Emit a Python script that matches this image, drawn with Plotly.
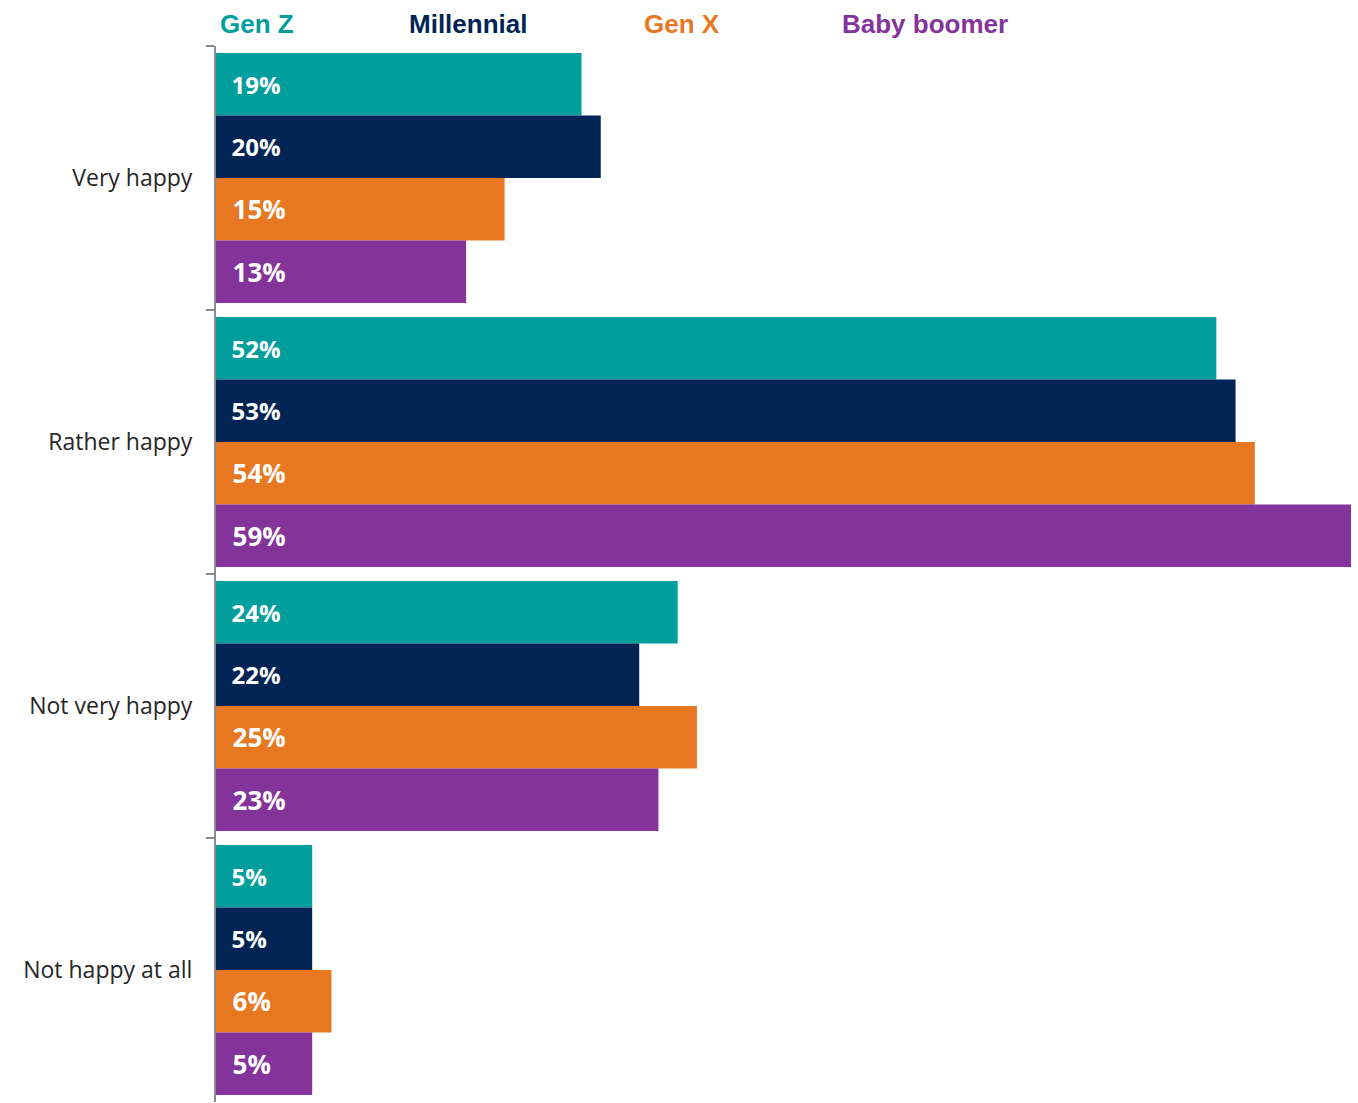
import plotly.graph_objects as go

# Survey responses by generation
categories = ["Very happy", "Rather happy", "Not very happy", "Not happy at all"]
series_names = ["Gen Z", "Millennial", "Gen X", "Baby boomer"]
gen_z = [19, 52, 24, 5]
millennial = [20, 53, 22, 5]
gen_x = [15, 54, 25, 6]
baby_boomer = [13, 59, 23, 5]

colors = ["#009E9C", "#002554", "#E87722", "#833399"]
label_sizes = [24, 24, 26, 26]
series_values = [gen_z, millennial, gen_x, baby_boomer]

fig = go.Figure()
for name, vals, col, lsz in zip(series_names, series_values, colors, label_sizes):
    fig.add_trace(go.Bar(
        name=name,
        y=categories,
        x=vals,
        orientation="h",
        marker=dict(color=col, line=dict(width=0)),
        text=[f"\u00a0\u00a0{v}%" for v in vals],
        textposition="inside",
        insidetextanchor="start",
        textfont=dict(family="Open Sans", size=lsz, color="white", weight="bold"),
        hoverinfo="skip",
    ))

# Coloured series names across the top instead of a symbol legend
legend_x = [0.0018, 0.168, 0.375, 0.5498]
for name, col, lx in zip(series_names, colors, legend_x):
    fig.add_annotation(
        x=lx, y=1.0205, xref="paper", yref="paper",
        xanchor="left", yanchor="middle",
        text=f"<b>{name}</b>", showarrow=False,
        font=dict(family="Liberation Sans", size=26, color=col),
    )

fig.update_layout(
    width=1358, height=1103,
    margin=dict(l=216, r=7, t=46, b=1),
    paper_bgcolor="white", plot_bgcolor="white",
    barmode="group", bargap=0.053, bargroupgap=0,
    showlegend=False,
    xaxis=dict(range=[0, 59], visible=False, showgrid=False, zeroline=False),
    yaxis=dict(
        autorange="reversed",
        showgrid=False, zeroline=False,
        showline=True, linecolor="#8C8C8C", linewidth=2,
        ticks="outside", tickson="boundaries", ticklen=8,
        tickcolor="#8C8C8C", tickwidth=2,
        ticklabelstandoff=17,
        tickfont=dict(family="Open Sans", size=23, color="#262626"),
    ),
)

fig.write_html("out.html")
